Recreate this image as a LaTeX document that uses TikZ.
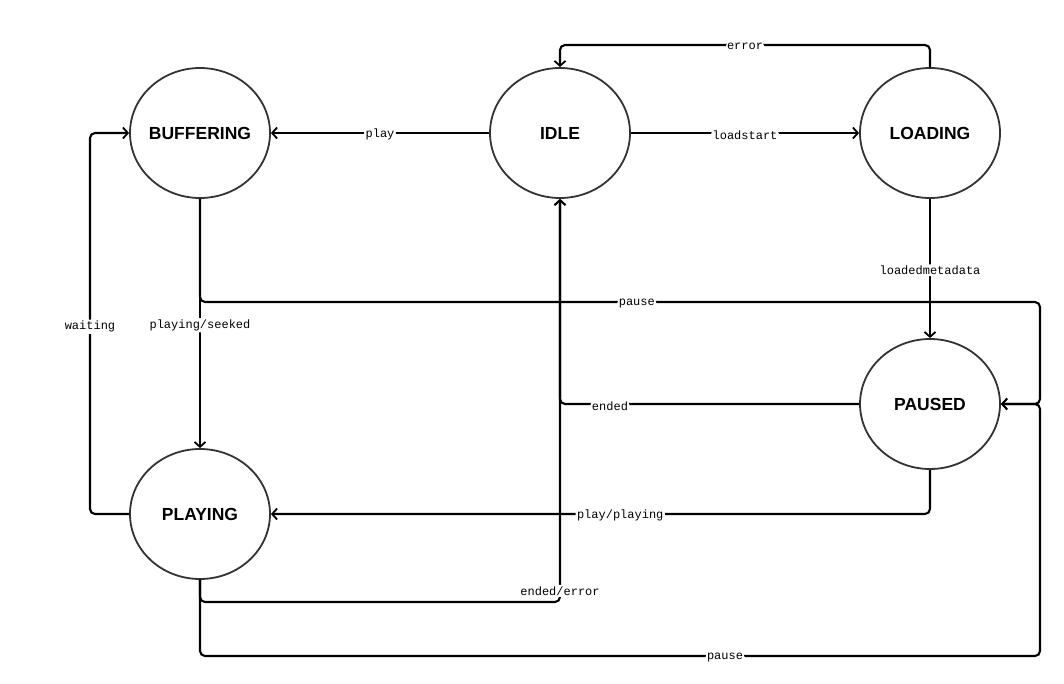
\documentclass[tikz,border=0pt]{standalone}
\usepackage{fontspec}
\setmainfont{Liberation Sans}
\newfontfamily\monof{Liberation Mono}
\usetikzlibrary{shapes.geometric,arrows.meta}
\begin{document}
\begin{tikzpicture}[x=1pt,y=-1pt,
  state/.style={ellipse,draw=black!80,line width=1.8pt,fill=white,minimum width=140pt,minimum height=130pt,inner sep=0pt,font=\fontsize{17.5}{20}\selectfont\bfseries},
  edge/.style={draw=black,line width=2.1pt,rounded corners=5pt,-{Straight Barb[length=5pt,width=11pt,line width=1.8pt]}},
  lbl/.style={fill=white,inner sep=1.5pt,yshift=-1.8pt,font=\monof\fontsize{12}{12}\selectfont}]
\useasboundingbox (0,0) rectangle (1064,683);
\node[state] (BUF) at (200,133) {\makebox[0pt]{BUFFERING}};
\node[state] (IDL) at (560,133) {\makebox[0pt]{IDLE}};
\node[state] (LOA) at (930,133) {\makebox[0pt]{LOADING}};
\node[state] (PAU) at (930,404) {\makebox[0pt]{PAUSED}};
\node[state] (PLA) at (200,514) {\makebox[0pt]{PLAYING}};
% edges
\draw[edge] (IDL.west) -- node[lbl]{play} (BUF.east);
\draw[edge] (IDL.east) -- node[lbl]{loadstart} (LOA.west);
\draw[edge] (LOA.north) -- (930,45) -- node[lbl]{error} (560,45) -- (IDL.north);
\draw[edge] (LOA.south) -- node[lbl]{loadedmetadata} (PAU.north);
\draw[edge] (BUF.south) -- (200,302) -- node[lbl,pos=0.52]{pause} (1040,302) -- (1040,404) -- (PAU.east);
\draw[edge] (BUF.south) -- node[lbl]{playing/seeked} (PLA.north);
\draw[edge] (PLA.west) -- (90,514) -- node[lbl,pos=0.496]{waiting} (90,133) -- (BUF.west);
\draw[edge] (PAU.west) -- node[lbl,pos=0.833]{ended} (560,404) -- (IDL.south);
\draw[edge] (PAU.south) -- (930,514) -- node[lbl,pos=0.47]{play/playing} (PLA.east);
\draw[edge] (PLA.south) -- (200,602) -- (560,602) -- node[lbl,pos=0.032]{ended/error} (IDL.south);
\draw[edge] (PLA.south) -- (200,656) -- node[lbl,pos=0.625]{pause} (1040,656) -- (1040,404) -- (PAU.east);
\end{tikzpicture}
\end{document}
